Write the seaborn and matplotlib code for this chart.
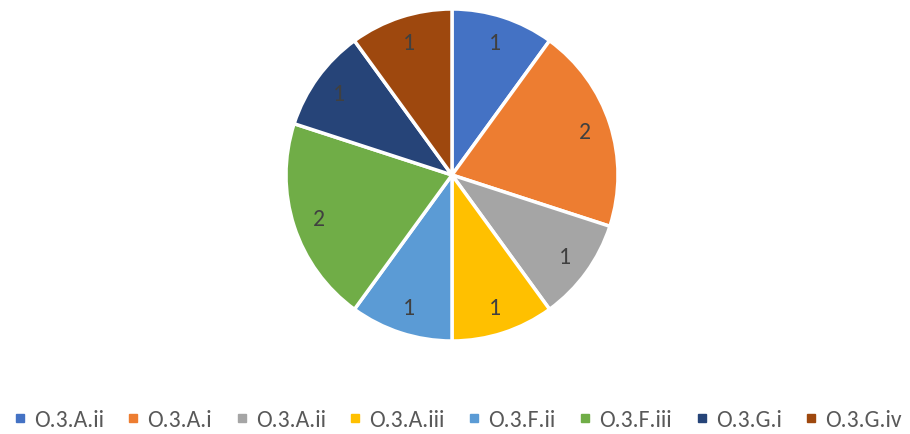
import matplotlib
matplotlib.use('Agg')
import matplotlib.pyplot as plt
import seaborn as sns
from matplotlib.lines import Line2D

# chart data
labels = ['O.3.A.ii', 'O.3.A.i', 'O.3.A.ii', 'O.3.A.iii', 'O.3.F.ii', 'O.3.F.iii', 'O.3.G.i', 'O.3.G.iv']
counts = [1, 2, 1, 1, 1, 2, 1, 1]
hex_colors = ['#4472C4', '#ED7D31', '#A5A5A5', '#FFC000', '#5B9BD5', '#70AD47', '#264478', '#9E480E']

sns.set_theme(style='white')
plt.rcParams['font.family'] = ['Carlito', 'Lato', 'DejaVu Sans']
palette = sns.color_palette(hex_colors)
text_color = '#404040'

fig = plt.figure(figsize=(9.1, 4.35), dpi=100)
ax = fig.add_axes([286 / 910, 93 / 435, 332 / 910, 332 / 435])

wedges, texts = ax.pie(
    counts,
    labels=[str(c) for c in counts],
    colors=palette,
    startangle=90,
    counterclock=False,
    labeldistance=0.84,
    wedgeprops=dict(edgecolor='white', linewidth=2.5),
    textprops=dict(color=text_color, fontsize=17),
)
for t in texts:
    t.set_horizontalalignment('center')
    t.set_verticalalignment('center')
ax.set_xlim(-1, 1)
ax.set_ylim(-1, 1)
ax.set_aspect('equal')

handles = [Line2D([0], [0], marker='s', linestyle='none', markersize=6,
                  markerfacecolor=c, markeredgecolor=c) for c in palette]
fig.legend(handles, labels, loc='center', bbox_to_anchor=(0.503, 1 - 421 / 435),
           ncol=8, frameon=False, fontsize=17, handlelength=0.5, handletextpad=0.35,
           columnspacing=1.0, labelcolor='#595959', borderpad=0.2)

fig.savefig('out.png', dpi=100)
